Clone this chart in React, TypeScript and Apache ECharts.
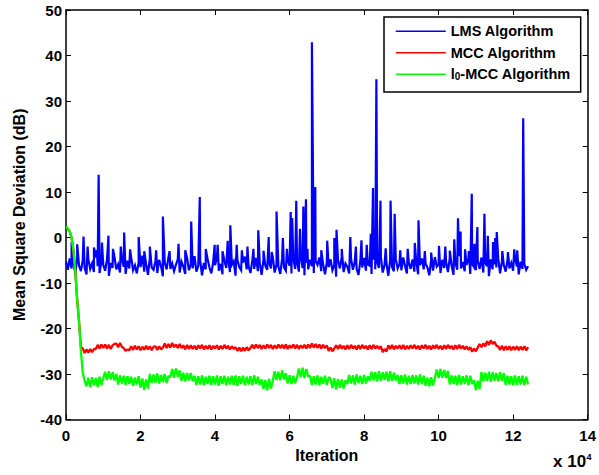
import React, { useEffect, useRef } from "react";
import * as echarts from "echarts";

const STEP = 500;
const X_TICKS = [0, 2, 4, 6, 8, 10, 12, 14];
const Y_TICKS = [-40, -30, -20, -10, 0, 10, 20, 30, 40, 50];
const SERIES_NAMES = ["LMS Algorithm", "MCC Algorithm", "l0-MCC Algorithm"];

// LMS noise floor, one value every STEP iterations from 0
const LMS_BASE = [
  -5.2,-7.1,-4.6,-6.8,-5.5,-7.9,-4.3,-6.2,-7.4,-5.0,-6.6,-8.1,-4.8,-6.9,-5.7,-7.6,-4.4,-6.3,-7.8,-5.3,
  -6.0,-7.3,-4.9,-8.4,-5.6,-6.7,-4.2,-7.0,-5.9,-7.7,-4.7,-6.4,-8.0,-5.1,-6.8,-4.5,-7.2,-6.1,-7.9,-5.4,
  -6.5,-4.0,-7.5,-5.8,-8.2,-4.6,-6.6,-7.1,-5.2,-7.8,-4.9,-6.3,-8.5,-5.5,-7.0,-4.3,-6.9,-5.7,-7.4,-6.0,
  -4.8,-7.7,-5.3,-6.4,-8.0,-4.5,-7.2,-5.9,-6.8,-4.1,-7.5,-6.2,-5.0,-8.3,-5.6,-7.0,-4.7,-6.6,-7.9,-5.4,
  -6.1,-4.4,-7.3,-5.8,-8.1,-5.0,-6.7,-4.6,-7.6,-6.0,-5.2,-8.4,-4.9,-6.5,-7.2,-5.5,-4.2,-7.0,-6.3,-7.8,
  -5.1,-6.9,-4.5,-7.4,-5.7,-8.2,-4.8,-6.2,-7.1,-5.3,-6.8,-4.3,-7.7,-5.9,-6.4,-8.0,-4.7,-6.6,-7.3,-5.0,
  -6.2,-7.9,-4.6,-6.9,-5.4,-7.5,-4.1,-6.7,-8.3,-5.6,-7.0,-4.9,-6.3,-7.8,-5.2,-6.0,-4.4,-7.4,-5.8,-8.1,
  -5.5,-6.5,-4.8,-7.2,-6.1,-8.6,-5.0,-6.8,-4.3,-7.6,-5.7,-6.4,-7.9,-4.6,-7.1,-5.3,-6.9,-8.2,-5.1,-6.6,
  -4.5,-7.3,-5.9,-6.2,-8.0,-4.9,-7.0,-5.4,-6.7,-4.2,-7.7,-6.0,-5.6,-8.4,-5.0,-6.5,-7.4,-4.7,-6.8,-5.8,
  -7.2,-4.4,-6.3,-7.9,-5.5,-6.9,-4.8,-7.5,-5.2,-8.1,-6.1,-4.6,-7.0,-5.7,-6.6,-8.3,-5.0,-7.3,-4.3,-6.4,
  -5.9,-7.8,-4.9,-6.7,-5.3,-7.6,-4.5,-6.2,-8.2,-5.6,-7.1,-4.1,-6.8,-5.4,-7.4,-6.0,-4.7,-8.0,-5.8,-6.5,
  -7.2,-5.1,-6.9,-4.4,-7.7,-5.5,-6.3,-8.5,-4.8,-7.0,-5.9,-6.6,-4.6,-7.9,-5.2,-6.1,-7.5,-4.9,-6.8,-5.6,
  -7.3,-4.5,-6.4,-8.1,-5.3,-6.9,-5.8,-7.1,-6.3,
];

// LMS impulsive peaks: [iteration, dB]
const LMS_SPIKES = [
  [1500,-1.0],[3000,-1.5],[4700,0.2],[5800,-2],[7500,-2.2],[8300,-2.8],[8760,13.8],[9650,-1.1],
  [11400,0.4],[12600,-2.5],[14700,-2],[15600,1.1],[17200,-2.6],[19500,0.1],[21000,-3],[22500,-2],
  [24200,-2.8],[26000,4.6],[27800,-3],[30200,-1.4],[32000,-2.8],[33600,3.5],[35900,8.9],[37500,-2.5],
  [39900,-1.6],[40700,-1.6],[42000,-3],[43400,-0.7],[44100,2.7],[45800,-1.6],[47200,-2.8],[48700,-2],
  [50300,-2.5],[51600,1.6],[53000,-2.9],[54400,0.1],[55200,-3.2],[56500,5.7],[58200,-0.1],[59300,-2.5],
  [60300,5.6],[60700,4.3],[61800,8.1],[62800,1.9],[63700,6.8],[64400,8.4],[64800,-2.5],[66000,42.9],
  [66900,11.1],[68500,-2.8],[70100,-0.7],[72000,-0.1],[72600,1.7],[74000,-2.5],[76300,0.1],[77800,-2],
  [79300,-0.6],[80700,-1.6],[81800,0.8],[82400,10.9],[82900,1.9],[83300,34.8],[84400,8.1],[85800,-2.4],
  [87100,8.1],[88200,5.2],[89700,-2.8],[91700,-2.5],[93600,-1.2],[94600,3.8],[96300,-3],[98000,-3.3],
  [100100,-1.8],[101800,-2],[103000,-2.9],[104200,-0.4],[105200,4.2],[105900,1.3],[107100,-2.6],[108100,-3],
  [108900,9.6],[109600,-1.4],[110400,2.3],[112300,5.2],[113200,0.4],[114600,-1.0],[115200,-0.1],[115600,1.2],
  [117100,-3],[118600,-3.2],[120300,-2.6],[121100,-2.8],[122700,26.2],
];

// MCC: convergence then steady state, one value every STEP iterations from 0
const MCC_VALUES = [
  2.4,1.9,1.3,0,-2.8,-7.5,-13.7,-18.5,-24.0,
  -24.4,-25.4,-24.6,-25.3,-24.5,-25.2,-24.5,
  -24.5,-23.6,-24.4,-23.5,-24.3,-23.5,-24.4,-23.6,-24.5,-23.7,-23.4,
  -23.3,-24.1,-23.2,-24.0,-24.3,-24.9,-24.6,
  -24.8,-23.9,-24.7,-23.8,-24.6,-23.9,-24.8,-24.0,-24.7,-23.8,-24.6,-23.9,-24.8,-24.0,-23.9,-24.7,-23.9,-24.6,
  -24.2,-23.3,-24.3,-23.4,-24.2,-23.2,-24.1,-23.5,-24.3,-23.4,-24.3,
  -23.7,-24.6,-23.6,-24.5,-23.7,-24.5,-23.8,-24.6,-23.7,-24.4,-23.6,-24.6,-23.8,-24.5,-23.7,-24.6,-23.8,-24.4,-23.7,-24.6,
  -23.8,-24.5,-23.6,-24.4,-23.8,-24.6,-23.9,-24.5,
  -24.1,-24.9,-24.2,-25.0,-24.2,-24.9,-24.1,-24.8,-24.3,
  -23.6,-24.4,-23.5,-24.3,-23.6,-24.5,-23.7,-24.4,-23.5,-24.3,-23.6,-24.5,-23.7,-24.4,-23.5,-24.3,-23.6,-24.4,-23.5,-24.5,
  -23.7,-24.3,-23.5,-24.4,-23.6,-24.5,-23.7,-24.3,-23.6,-24.4,-23.5,-24.3,-23.3,-24.2,-23.4,-24.3,-23.5,-24.4,-23.6,-24.3,-23.7,
  -24.9,-24.2,-25.0,-24.4,
  -23.7,-24.5,-23.6,-24.4,-23.8,-24.6,-23.7,-24.5,-23.6,-24.4,-23.8,-24.6,-23.7,-24.5,-23.6,-24.4,-23.8,-24.6,-23.7,-24.5,
  -23.6,-24.4,-23.8,-24.5,-23.9,
  -25.2,-24.5,-25.1,
  -23.7,-24.5,-23.6,-24.6,-23.8,-24.4,-23.7,-24.5,-23.6,-24.6,-23.8,-24.5,-23.7,-24.4,-23.6,-24.5,-23.8,-24.6,-23.7,-24.4,
  -23.6,-24.5,-23.8,-24.6,-23.7,-24.4,-23.6,-24.5,-23.8,-24.6,-23.7,-24.5,-23.6,-24.4,-23.8,-24.6,-23.7,-24.5,-23.6,-24.4,
  -23.8,-24.6,-23.9,-24.7,-24.1,
  -25.1,-24.4,-25.0,
  -24.2,-23.4,-24.1,-23.3,-23.9,
  -22.8,-23.6,-22.6,-23.4,-22.9,-23.8,
  -23.9,-24.7,-23.8,-24.8,-23.9,-24.7,-23.9,-24.8,-24.0,-24.7,-23.9,-24.8,-24.0,-24.7,-23.9,-24.8,-24.1,
];

// l0-MCC: convergence then steady state, one value every STEP iterations from 0
const L0MCC_VALUES = [
  2.4,1.9,1.3,0,-2.8,-7.5,-13.7,-18.5,-25.0,-29.7,-31.5,
  -32.7,-30.8,-32.9,-30.7,-32.5,-30.9,-32.8,-30.6,-32.4,-31.0,
  -29.5,-31.3,-29.4,-31.2,-29.6,-31.4,-30.0,
  -32.3,-30.3,-32.1,-30.4,-32.4,-30.5,-32.2,-30.6,-32.6,-30.8,-32.3,-30.5,-33.0,
  -31.0,-33.5,-31.2,-33.2,
  -30.0,-32.0,-30.1,-31.9,-29.9,-32.1,-30.2,-31.8,-30.0,-32.0,-30.4,
  -30.7,-28.9,-30.8,-28.8,-30.6,-29.2,
  -31.5,-29.7,-31.6,-29.8,-31.4,-29.8,-31.6,
  -30.4,-32.4,-30.5,-32.3,-30.3,-32.5,-30.6,-32.2,-30.4,-32.4,-30.5,-32.3,-30.3,-32.6,-30.5,-32.2,-30.4,-32.5,-30.6,-32.3,
  -30.4,-32.4,-30.3,-32.6,-30.5,-32.2,-30.4,-32.5,-30.6,-32.3,-30.5,-32.4,-30.3,-32.2,-30.6,-32.4,
  -31.2,-33.3,-31.3,-33.6,-31.1,-33.2,-31.5,
  -29.4,-31.3,-29.5,-31.4,-29.2,-31.2,-29.8,
  -32.1,-30.3,-32.2,-30.4,-32.0,
  -30.8,-28.8,-30.7,-28.6,-30.9,-28.9,-30.6,
  -30.4,-32.4,-30.5,-32.3,-30.3,-32.5,-30.6,-32.2,-30.4,-32.4,-30.7,
  -31.0,-33.1,-30.9,-33.4,-31.1,-33.0,-31.2,-33.2,-31.4,
  -32.2,-30.2,-32.1,-30.3,-32.3,-30.1,-32.0,-30.4,-32.2,-30.2,-32.1,-30.5,
  -31.5,-29.5,-31.4,-29.6,-31.6,-29.4,-31.5,-29.6,-31.3,-29.5,-31.6,-29.4,-31.5,-29.7,-31.4,
  -30.2,-32.2,-30.3,-32.1,-30.1,-32.3,-30.4,-32.2,-30.2,-32.1,-30.3,-32.3,-30.1,-32.2,-30.4,
  -32.6,-30.8,-32.7,-30.7,-32.5,-30.9,
  -29.0,-30.9,-28.9,-30.8,-29.1,-30.9,-29.3,
  -32.3,-30.3,-32.2,-30.4,-32.4,-30.2,-32.3,-30.5,-32.2,-30.3,-32.4,-30.4,-32.2,
  -31.4,-33.5,-31.5,-33.3,
  -29.6,-31.6,-29.7,-31.5,-29.5,-31.7,-29.6,-31.5,-29.8,-31.6,-29.6,-31.5,-29.8,
  -32.4,-30.4,-32.3,-30.5,-32.5,-30.3,-32.4,-30.5,-32.3,-30.4,-32.5,-30.6,-32.3,
];

const FONT = "'Liberation Sans', Arial, Helvetica, sans-serif";

function toPairs(values: number[]) {
  return values.map((v, i) => [i * STEP, v]);
}

export default function App() {
  const ref = useRef<HTMLDivElement>(null);
  useEffect(() => {
    document.body.style.margin = "0";
    if (!ref.current) return;
    const chart = echarts.init(ref.current, null, { renderer: "svg" });
    const lmsData = toPairs(LMS_BASE)
      .concat(LMS_SPIKES.map((p) => [p[0], p[1]]))
      .sort((a, b) => a[0] - b[0]);
    const mccData = toPairs(MCC_VALUES);
    const l0Data = toPairs(L0MCC_VALUES);
    const xMin = X_TICKS[0] * 1e4;
    const xMax = X_TICKS[X_TICKS.length - 1] * 1e4;
    const xInt = (X_TICKS[1] - X_TICKS[0]) * 1e4;
    const yMin = Y_TICKS[0];
    const yMax = Y_TICKS[Y_TICKS.length - 1];
    const yInt = Y_TICKS[1] - Y_TICKS[0];
    const labelStyle = { color: "#000", fontSize: 15, fontWeight: "bold", fontFamily: FONT };
    const axisLine = { show: true, onZero: false, lineStyle: { color: "#000", width: 1.5 } };
    const axisTick = { show: true, inside: true, length: 5, lineStyle: { color: "#000", width: 1 } };
    const option = {
      animation: false,
      backgroundColor: "#fff",
      grid: { left: 66, top: 10, right: 10, bottom: 55.5, containLabel: false },
      xAxis: [
        {
          type: "value", position: "bottom", min: xMin, max: xMax, interval: xInt,
          axisLine, axisTick, splitLine: { show: false },
          axisLabel: { ...labelStyle, margin: 8, formatter: (v: number) => String(v / 1e4) },
          name: "Iteration", nameLocation: "middle", nameGap: 23,
          nameTextStyle: { color: "#000", fontSize: 16, fontWeight: "bold", fontFamily: FONT },
        },
        {
          type: "value", position: "top", min: xMin, max: xMax, interval: xInt,
          axisLine, axisTick, splitLine: { show: false }, axisLabel: { show: false },
        },
      ],
      yAxis: [
        {
          type: "value", position: "left", min: yMin, max: yMax, interval: yInt,
          axisLine, axisTick, splitLine: { show: false },
          axisLabel: { ...labelStyle, margin: 4 },
          name: "Mean Square Deviation (dB)", nameLocation: "middle", nameGap: 39,
          nameTextStyle: { color: "#000", fontSize: 16, fontWeight: "bold", fontFamily: FONT },
        },
        {
          type: "value", position: "right", min: yMin, max: yMax, interval: yInt,
          axisLine, axisTick, splitLine: { show: false }, axisLabel: { show: false },
        },
      ],
      legend: {
        orient: "vertical",
        left: 384,
        top: 17,
        data: SERIES_NAMES,
        itemWidth: 50,
        itemHeight: 14,
        itemGap: 6.5,
        padding: [6.7, 10, 10.3, 11],
        backgroundColor: "#fff",
        borderColor: "#000",
        borderWidth: 1.5,
        borderRadius: 0,
        itemStyle: { opacity: 0 },
        lineStyle: { width: 1.5 },
        formatter: (name: string) =>
          name === SERIES_NAMES[2] ? "{a|l}{s|0}{a|-MCC Algorithm}" : "{a|" + name + "}",
        textStyle: {
          color: "#000", fontSize: 14.5, fontWeight: "bold", fontFamily: FONT,
          rich: {
            a: { color: "#000", fontSize: 14.5, fontWeight: "bold", fontFamily: FONT, lineHeight: 14 },
            s: { color: "#000", fontSize: 10, fontWeight: "bold", fontFamily: FONT, lineHeight: 2, verticalAlign: "bottom" },
          },
        },
      },
      graphic: [
        {
          type: "text", x: 553, y: 461.5, silent: true,
          style: { text: "x 10", fill: "#000", font: "bold 17px " + FONT, textAlign: "left", textVerticalAlign: "middle" },
        },
        {
          type: "text", x: 586.5, y: 456.5, silent: true,
          style: { text: "4", fill: "#000", font: "bold 9px " + FONT, textAlign: "left", textVerticalAlign: "middle" },
        },
      ],
      series: [
        {
          name: SERIES_NAMES[0], type: "line", data: lmsData, xAxisIndex: 0, yAxisIndex: 0,
          symbol: "none", showSymbol: false, color: "#0000ff",
          lineStyle: { color: "#0000ff", width: 2.2, join: "miter" }, z: 2, silent: true,
        },
        {
          name: SERIES_NAMES[1], type: "line", data: mccData, xAxisIndex: 0, yAxisIndex: 0,
          symbol: "none", showSymbol: false, color: "#ff0000",
          lineStyle: { color: "#ff0000", width: 2.3 }, z: 3, silent: true,
        },
        {
          name: SERIES_NAMES[2], type: "line", data: l0Data, xAxisIndex: 0, yAxisIndex: 0,
          symbol: "none", showSymbol: false, color: "#00ff00",
          lineStyle: { color: "#00ff00", width: 2.3 }, z: 4, silent: true,
        },
      ],
    };
    chart.setOption(option as any);
    return () => chart.dispose();
  }, []);
  return (
    <div
      ref={ref}
      style={{ width: 599, height: 475, position: "absolute", left: 0, top: 0 }}
    />
  );
}
